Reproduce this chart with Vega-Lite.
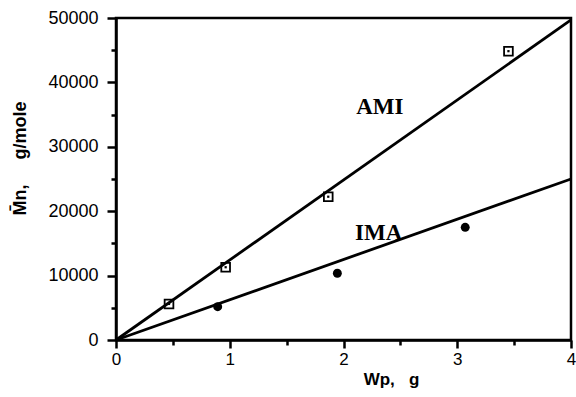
{
  "$schema": "https://vega.github.io/schema/vega-lite/v6.json",
  "width": 455,
  "height": 322,
  "autosize": {"type": "none"},
  "padding": {"left": 116, "top": 18, "right": 5, "bottom": 57},
  "background": "white",
  "config": {
    "view": {"stroke": "black", "strokeWidth": 2.5},
    "axis": {"grid": false, "labelFont": "Liberation Sans", "titleFont": "Liberation Sans", "labelColor": "black", "titleColor": "black", "domainColor": "black", "tickColor": "black"}
  },
  "datasets": {
    "fits": [
      {"series": "AMI", "x": 0, "y": 0},
      {"series": "AMI", "x": 4, "y": 49700},
      {"series": "IMA", "x": 0, "y": 0},
      {"series": "IMA", "x": 4, "y": 25000}
    ],
    "ami": [
      {"x": 0.466, "y": 5600},
      {"x": 0.964, "y": 11300},
      {"x": 1.866, "y": 22250},
      {"x": 3.45, "y": 44850}
    ],
    "ima": [
      {"x": 0.894, "y": 5170},
      {"x": 1.946, "y": 10360},
      {"x": 3.07, "y": 17500}
    ],
    "labels": [
      {"text": "AMI", "x": 2.32, "y": 36230},
      {"text": "IMA", "x": 2.31, "y": 16615}
    ]
  },
  "resolve": {"axis": {"x": "independent", "y": "independent"}},
  "layer": [
    {
      "data": {"name": "fits"},
      "mark": {"type": "line", "color": "black", "strokeWidth": 2.8},
      "encoding": {
        "x": {"field": "x", "type": "quantitative", "scale": {"domain": [0, 4], "nice": false},
          "axis": {"orient": "bottom", "values": [0, 1, 2, 3, 4], "format": "d", "tickSize": 8, "tickWidth": 2.5, "domainWidth": 2.5, "labelFontSize": 17, "labelPadding": 3, "title": "Wp,\u00a0\u00a0 g", "titleFontSize": 17, "titleFontWeight": "bold", "titleX": 275, "titleY": 44, "titleBaseline": "alphabetic", "titleAlign": "center", "labelFlush": false}},
        "y": {"field": "y", "type": "quantitative", "scale": {"domain": [0, 50000], "nice": false},
          "axis": {"orient": "left", "values": [0, 10000, 20000, 30000, 40000, 50000], "format": "d", "tickSize": 9, "tickWidth": 2.5, "domainWidth": 2.5, "labelFontSize": 18, "labelPadding": 9, "title": "M\u0304n,\u00a0\u00a0\u00a0\u00a0 g/mole", "titleFontSize": 18, "titleFontWeight": "bold", "titleX": -96, "titleY": 140, "titleAngle": -90, "titleBaseline": "middle", "titleAlign": "center", "labelFlush": false}},
        "detail": {"field": "series"}
      }
    },
    {
      "data": {"name": "ami"},
      "mark": {"type": "point", "shape": "square", "filled": false, "color": "black", "strokeWidth": 1.8, "size": 76, "opacity": 1},
      "encoding": {
        "x": {"field": "x", "type": "quantitative",
          "axis": {"orient": "bottom", "values": [0.5, 1.5, 2.5, 3.5], "labels": false, "domain": false, "tickSize": 5, "tickWidth": 2.5, "title": null}},
        "y": {"field": "y", "type": "quantitative",
          "axis": {"orient": "left", "values": [5000, 15000, 25000, 35000, 45000], "labels": false, "domain": false, "tickSize": 5, "tickWidth": 2.5, "title": null}}
      }
    },
    {
      "data": {"name": "ami"},
      "mark": {"type": "point", "shape": "square", "filled": true, "color": "black", "size": 5, "opacity": 1},
      "encoding": {
        "x": {"field": "x", "type": "quantitative", "axis": null},
        "y": {"field": "y", "type": "quantitative", "axis": null}
      }
    },
    {
      "data": {"name": "ima"},
      "mark": {"type": "point", "shape": "circle", "filled": true, "color": "black", "size": 80, "opacity": 1},
      "encoding": {
        "x": {"field": "x", "type": "quantitative", "axis": null},
        "y": {"field": "y", "type": "quantitative", "axis": null}
      }
    },
    {
      "data": {"name": "labels"},
      "mark": {"type": "text", "font": "Liberation Serif", "fontWeight": "bold", "fontSize": 23, "color": "black", "align": "center", "baseline": "middle"},
      "encoding": {
        "x": {"field": "x", "type": "quantitative", "axis": null},
        "y": {"field": "y", "type": "quantitative", "axis": null},
        "text": {"field": "text"}
      }
    }
  ]
}
